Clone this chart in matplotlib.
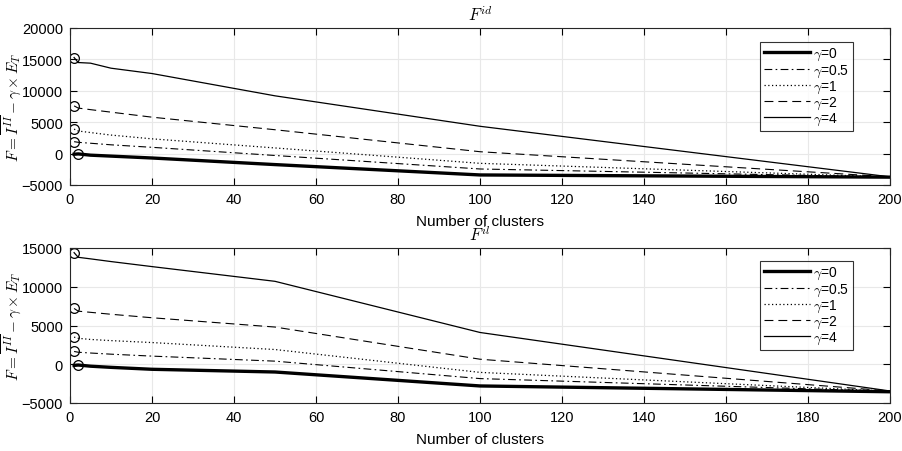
import matplotlib
matplotlib.use("Agg")
import matplotlib.pyplot as plt

plt.rcParams["font.family"] = ["Liberation Sans", "DejaVu Sans"]
plt.rcParams["mathtext.fontset"] = "cm"

# Number of clusters evaluated
clusters = [1, 2, 5, 10, 20, 50, 100, 200]
gammas = ["0", "0.5", "1", "2", "4"]

# Objective values, top panel (F^id)
f_id = {
    "0":   [-100, -50, -250, -400, -700, -1750, -3400, -3750],
    "0.5": [1900, 1800, 1650, 1400, 1000, -300, -2450, -3730],
    "1":   [3900, 3600, 3350, 2950, 2350, 900, -1550, -3720],
    "2":   [7600, 7250, 7000, 6600, 5800, 3800, 300, -3700],
    "4":   [15300, 14500, 14400, 13600, 12750, 9200, 4350, -3700],
}

# Objective values, bottom panel (F^il)
f_il = {
    "0":   [-150, -100, -250, -400, -650, -1000, -2800, -3550],
    "0.5": [1650, 1550, 1450, 1300, 1050, 400, -1850, -3500],
    "1":   [3500, 3350, 3200, 3050, 2800, 1900, -1050, -3480],
    "2":   [7200, 6850, 6700, 6450, 6000, 4800, 650, -3450],
    "4":   [14400, 13800, 13600, 13250, 12600, 10700, 4100, -3450],
}

# Index of the highlighted (maximum) point of each curve
peak_idx = {"0": 1, "0.5": 0, "1": 0, "2": 0, "4": 0}

styles = {
    "0":   dict(ls="-", lw=2.4),
    "0.5": dict(ls=(0, (7, 3, 1.5, 3)), lw=0.8),
    "1":   dict(ls=(0, (1, 2)), lw=0.9),
    "2":   dict(ls=(0, (8, 4.5)), lw=0.8),
    "4":   dict(ls="-", lw=0.9),
}

fig = plt.figure(figsize=(9.02, 4.52), dpi=100)
ax1 = fig.add_axes([70 / 902, 1 - 186 / 452, 820 / 902, 157 / 452])
ax2 = fig.add_axes([70 / 902, 1 - 404 / 452, 820 / 902, 155 / 452])


def draw(ax, data, title, ylim, yticks, leg_y):
    for g in gammas:
        ax.plot(clusters, data[g], color="black", label=r"$\gamma$=" + g,
                **styles[g])
        i = peak_idx[g]
        ax.plot(clusters[i], data[g][i], "o", mfc="none", mec="black", ms=7, mew=0.9)
    ax.set_xlim(0, 200)
    ax.set_ylim(*ylim)
    ax.set_xticks(range(0, 201, 20))
    ax.set_yticks(yticks)
    ax.grid(True, color="#e8e8e8", lw=0.8)
    ax.set_axisbelow(True)
    ax.tick_params(direction="in", top=True, right=True, labelsize=10.5,
                   length=5, width=0.8, colors="black", pad=5)
    for s in ax.spines.values():
        s.set_linewidth(0.8)
        s.set_color("#262626")
    ax.set_xlabel("Number of clusters", fontsize=11, labelpad=6)
    ax.set_ylabel(r"$F=\overline{I^{II}}-\gamma\times E_T$", fontsize=11)
    ax.yaxis.set_label_coords(-0.057, 0.5)
    ax.set_title(title, fontsize=12, pad=6)
    leg = ax.legend(loc="upper right", bbox_to_anchor=(0.955, leg_y), fontsize=10,
                    frameon=True, fancybox=False, edgecolor="black",
                    handlelength=3.3, handletextpad=0.2, borderpad=0.3,
                    labelspacing=0.0, borderaxespad=0)
    leg.get_frame().set_linewidth(0.8)


draw(ax1, f_id, r"$F^{id}$", (-5000, 20000), range(-5000, 20001, 5000), 0.911)
draw(ax2, f_il, r"$F^{il}$", (-5000, 15000), range(-5000, 15001, 5000), 0.916)

fig.savefig("out.png", dpi=100)
